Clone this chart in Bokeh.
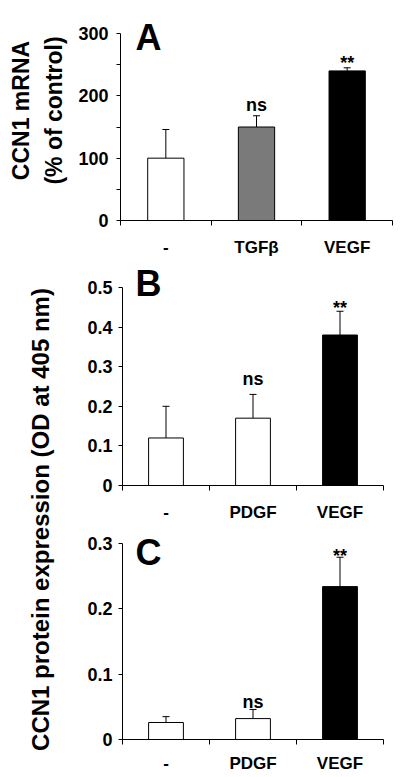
from bokeh.plotting import figure
from bokeh.layouts import column, row
from bokeh.models import (Range1d, FixedTicker, CustomJSTickFormatter, NumeralTickFormatter,
                          BasicTickFormatter, ColumnDataSource, Whisker, TeeHead, Label)
from bokeh.core.properties import value
from bokeh.embed import file_html
from bokeh.resources import INLINE

FONT = "Liberation Sans"

# ---------------- data ----------------
cats_a = ["-", "TGFβ", "VEGF"]
mean_a = [100, 150, 240]
errtop_a = [146, 168, 245]
sig_a = ["", "ns", "**"]
colors_a = ["white", "#7a7a7a", "black"]
yticks_a = [0, 100, 200, 300]
yminor_a = [50, 150, 250]

cats_b = ["-", "PDGF", "VEGF"]
mean_b = [0.12, 0.17, 0.38]
errtop_b = [0.20, 0.23, 0.44]
sig_b = ["", "ns", "**"]
colors_b = ["white", "white", "black"]
yticks_b = [0, 0.1, 0.2, 0.3, 0.4, 0.5]

cats_c = ["-", "PDGF", "VEGF"]
mean_c = [0.026, 0.032, 0.234]
errtop_c = [0.035, 0.046, 0.279]
sig_c = ["", "ns", "**"]
colors_c = ["white", "white", "black"]
yticks_c = [0, 0.1, 0.2, 0.3]

ylabel_a = "CCN1 mRNA\n(% of control)"
ylabel_bc = "CCN1 protein expression (OD at 405 nm)"


def panel(cats, means, tops, sig, colors, y_end, yticks, yminor, fmt,
          width, height, bl, br, bb, axis_px, letter, letter_dx, letter_base,
          sig_dy, xstd, ystd, ylabel=None):
    fw = width - bl - br
    fh = height - bb
    n = len(cats)
    top_val = y_end * fh / axis_px
    p = figure(width=width, height=height, x_range=Range1d(0, n), y_range=Range1d(0, top_val),
               toolbar_location=None, output_backend="svg",
               min_border_left=bl, min_border_right=br, min_border_top=0, min_border_bottom=bb)
    p.outline_line_color = None
    p.grid.visible = False
    p.background_fill_color = "white"
    p.border_fill_color = "white"

    xs = [i + 0.5 for i in range(n)]
    src = ColumnDataSource(dict(x=xs, top=means, err=tops, color=colors, sig=sig, dy=sig_dy))
    p.vbar(x="x", top="top", bottom=0, width=0.4, fill_color="color",
           line_color="black", line_width=1, source=src)
    w = Whisker(source=src, base="x", lower="top", upper="err", dimension="height",
                line_color="black", line_width=1,
                upper_head=TeeHead(size=7, line_color="black", line_width=1),
                lower_head=None)
    p.add_layout(w)
    p.text(x="x", y="err", text="sig", y_offset="dy", text_align="center",
           text_baseline="alphabetic", text_font=value(FONT), text_font_style="bold",
           text_font_size="18px", text_color="black", source=src)

    xa = p.xaxis[0]
    xa.ticker = FixedTicker(ticks=xs, minor_ticks=list(range(n + 1)))
    xa.formatter = CustomJSTickFormatter(args=dict(labels=cats),
                                         code="return labels[Math.floor(tick)];")
    xa.major_tick_line_color = None
    xa.major_tick_out = 0
    xa.major_tick_in = 0
    xa.minor_tick_out = 5
    xa.minor_tick_in = 0
    xa.minor_tick_line_color = "black"
    xa.axis_line_color = "black"
    xa.major_label_standoff = xstd
    xa.major_label_text_font = FONT
    xa.major_label_text_font_style = "bold"
    xa.major_label_text_font_size = "17px"
    xa.major_label_text_color = "black"

    ya = p.yaxis[0]
    ya.bounds = (0, y_end)
    ya.ticker = FixedTicker(ticks=yticks, minor_ticks=yminor)
    ya.formatter = fmt
    ya.major_tick_out = 4
    ya.major_tick_in = 0
    ya.minor_tick_out = 4
    ya.minor_tick_in = 0
    ya.major_tick_line_color = "black"
    ya.minor_tick_line_color = "black"
    ya.axis_line_color = "black"
    ya.major_label_standoff = ystd
    ya.major_label_text_font = FONT
    ya.major_label_text_font_style = "bold"
    ya.major_label_text_font_size = "18px"
    ya.major_label_text_color = "black"
    if ylabel:
        ya.axis_label = ylabel
        ya.axis_label_text_font = FONT
        ya.axis_label_text_font_style = "bold"
        ya.axis_label_text_font_size = "23px"
        ya.axis_label_text_color = "black"
        ya.axis_label_text_line_height = 1.3
        ya.axis_label_standoff = 8

    lab = Label(x=letter_dx / fw * n, y=(fh - letter_base) / axis_px * y_end, text=letter,
                text_font=FONT, text_font_style="bold", text_font_size="36px",
                text_align="left", text_baseline="alphabetic", text_color="black")
    p.add_layout(lab)
    return p


pA = panel(cats_a, mean_a, errtop_a, sig_a, colors_a, 300, yticks_a, yminor_a,
           BasicTickFormatter(), 400, 262, 120, 8, 42, 187, "A", 15, 37,
           [0, -11, -5], 12, 8, ylabel_a)
pB = panel(cats_b, mean_b, errtop_b, sig_b, colors_b, 0.5, yticks_b, [],
           NumeralTickFormatter(format="0.[0]"), 340, 263, 62, 17, 40, 198, "B", 13, 21,
           [0, -15, -3], 12, 6)
pC = panel(cats_c, mean_c, errtop_c, sig_c, colors_c, 0.3, yticks_c, [],
           NumeralTickFormatter(format="0.[0]"), 340, 252, 62, 17, 38, 196, "C", 13, 27,
           [0, -7, -1], 9, 6)

# narrow figure carrying the shared y-axis title of panels B and C
lf = figure(width=60, height=515, x_range=Range1d(0, 1), y_range=Range1d(0, 1),
            toolbar_location=None, output_backend="svg",
            min_border_left=53, min_border_right=0, min_border_top=0, min_border_bottom=1,
            x_axis_location=None, y_axis_location=None, title_location="left")
lf.outline_line_color = None
lf.grid.visible = False
lf.title.text = ylabel_bc
lf.title.align = "center"
lf.title.standoff = 0
lf.title.text_font = FONT
lf.title.text_font_style = "bold"
lf.title.text_font_size = "24px"
lf.title.text_color = "black"

layout = column(pA, row(lf, column(pB, pC)))
open("out.html", "w").write(file_html(layout, INLINE))
